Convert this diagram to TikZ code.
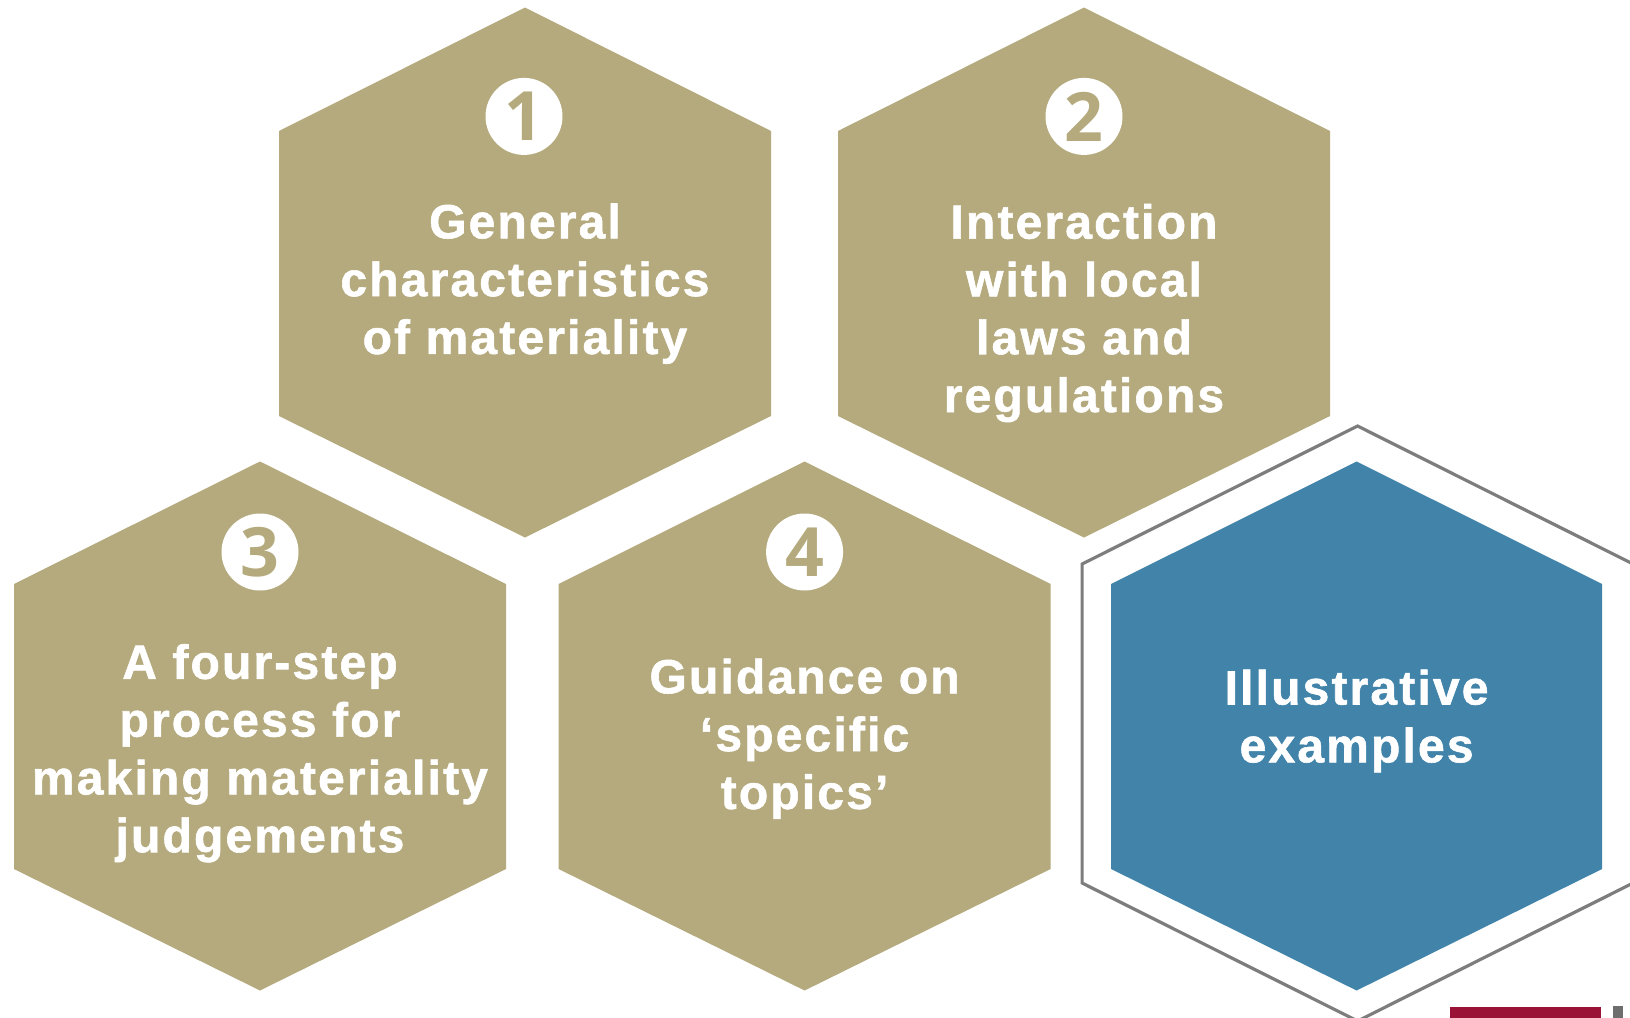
\documentclass[tikz,border=0pt]{standalone}
\usepackage{fontspec}
\setmainfont{Liberation Sans}
\newfontfamily\labelfont[LetterSpace=4.5,FakeBold=1.2]{Liberation Sans}
\newfontfamily\badgefont{Open Sans}
\definecolor{hextan}{RGB}{180,170,125}
\definecolor{hexblue}{RGB}{65,131,169}
\definecolor{rimgray}{RGB}{125,125,125}
\definecolor{logored}{RGB}{155,18,55}
\definecolor{logogray}{RGB}{110,110,110}

\begin{document}
\begin{tikzpicture}[
    x=0.5pt, y=-0.5pt,
    hexcell/.style={fill=hextan},
    focuscell/.style={fill=hexblue},
    rim/.style={draw=rimgray, line width=1.6pt},
    label/.style={text=white, align=center, inner sep=0pt,
        font=\labelfont\bfseries\fontsize{24}{28.9}\selectfont},
    badge/.style={circle, fill=white, minimum size=38.5pt, inner sep=0pt,
        text=hextan, font=\badgefont\bfseries\fontsize{34}{34}\selectfont}
]
\useasboundingbox (0,0) rectangle (1630,1018);
\clip (0,0) rectangle (1630,1018);

% Cell centres
\coordinate (general) at (525,273.5);
\coordinate (laws) at (1084,273.5);
\coordinate (process) at (260,726.5);
\coordinate (topics) at (804.6,726.5);
\coordinate (examples) at (1356.6,726.5);

% Top row
\fill[hexcell] (general) +(0,-266) -- +(246,-142.5) -- +(246,142.5) -- +(0,264) -- +(-246,142.5) -- +(-246,-142.5) -- cycle;
\fill[hexcell] (laws) +(0,-266) -- +(246,-142.5) -- +(246,142.5) -- +(0,264) -- +(-246,142.5) -- +(-246,-142.5) -- cycle;

% Bottom row
\fill[hexcell] (process) +(0,-265) -- +(246,-142.5) -- +(246,142.5) -- +(0,264) -- +(-246,142.5) -- +(-246,-142.5) -- cycle;
\fill[hexcell] (topics) +(0,-265) -- +(246,-142.5) -- +(246,142.5) -- +(0,264) -- +(-246,142.5) -- +(-246,-142.5) -- cycle;

% Highlighted cell with its outline
\draw[rim] (1357.6,723.5) +(0,-297.5) -- +(275.5,-159.5) -- +(275.5,159.5) -- +(0,297.5) -- +(-275.5,159.5) -- +(-275.5,-159.5) -- cycle;
\fill[focuscell] (examples) +(0,-265) -- +(245.5,-142.5) -- +(245.5,142.5) -- +(0,264) -- +(-245.5,142.5) -- +(-245.5,-142.5) -- cycle;

% Number badges
\node[badge] (one) at (524,116.4) {1};
\node[badge] (two) at (1084,116.4) {2};
\node[badge] (three) at (260,552) {3};
\node[badge] (four) at (804.6,552) {4};

% Labels
\node[label] (generaltext) at (525,283.7) {General\\characteristics\\of materiality};
\node[label] (lawstext) at (1084,313) {Interaction\\with local\\laws and\\regulations};
\node[label] (processtext) at (260,753.2) {A four-step\\process for\\making materiality\\judgements};
\node[label] (topicstext) at (804.6,738.7) {Guidance on\\‘specific\\topics’};
\node[label] (examplestext) at (1356.6,721) {Illustrative\\examples};

% Logo corner
\fill[logored] (1450,1006.5) rectangle (1601,1018);
\fill[logogray] (1613,1006) rectangle (1623,1018);

\end{tikzpicture}
\end{document}
